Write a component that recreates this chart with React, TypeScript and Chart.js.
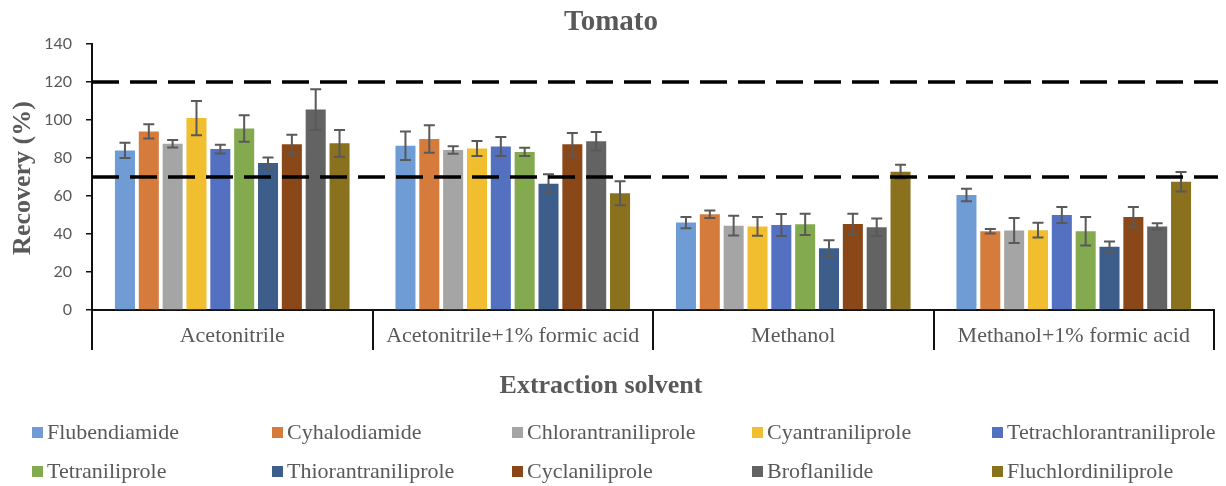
import React, { useEffect, useRef } from "react";
import { Chart, registerables } from "chart.js";

Chart.register(...registerables);

// Extraction solvents (x categories)
const solvents = [
  "Acetonitrile",
  "Acetonitrile+1% formic acid",
  "Methanol",
  "Methanol+1% formic acid",
];

// Compounds (series)
const compounds = [
  "Flubendiamide",
  "Cyhalodiamide",
  "Chlorantraniliprole",
  "Cyantraniliprole",
  "Tetrachlorantraniliprole",
  "Tetraniliprole",
  "Thiorantraniliprole",
  "Cyclaniliprole",
  "Broflanilide",
  "Fluchlordiniliprole",
];

const seriesColors = [
  "#6F9CD4",
  "#D57C3D",
  "#A5A5A5",
  "#F0BE2E",
  "#5470C0",
  "#84AA50",
  "#3D5D8B",
  "#8A4819",
  "#636363",
  "#8A711E",
];

// Mean recovery (%) per solvent
const flubendiamide = [84, 86.5, 46, 60.5];
const cyhalodiamide = [94, 90, 50.4, 41.4];
const chlorantraniliprole = [87.5, 84.2, 44.4, 41.8];
const cyantraniliprole = [101, 85, 44, 42];
const tetrachlorantraniliprole = [84.7, 86, 44.7, 50];
const tetraniliprole = [95.5, 83.2, 45.1, 41.4];
const thiorantraniliprole = [77.4, 66.5, 32.5, 33.3];
const cyclaniliprole = [87.2, 87.2, 45.3, 48.9];
const broflanilide = [105.5, 88.8, 43.5, 44];
const fluchlordiniliprole = [87.7, 61.4, 72.8, 67.5];

// Standard deviation (%) per solvent
const flubendiamideSd = [4, 7.5, 3, 3.3];
const cyhalodiamideSd = [3.7, 7.3, 2, 1.2];
const chlorantraniliproleSd = [2, 2, 5.2, 6.6];
const cyantraniliproleSd = [9, 3.9, 4.9, 3.9];
const tetrachlorantraniliproleSd = [2.3, 5, 5.8, 4.2];
const tetraniliproleSd = [7, 2.2, 5.6, 7.5];
const thiorantraniliproleSd = [2.8, 4.9, 4.2, 2.8];
const cyclaniliproleSd = [5, 6, 5.4, 5.3];
const broflanilideSd = [10.7, 4.9, 4.6, 1.6];
const fluchlordiniliproleSd = [7, 6.3, 3.7, 5.1];

const seriesValues = [
  flubendiamide,
  cyhalodiamide,
  chlorantraniliprole,
  cyantraniliprole,
  tetrachlorantraniliprole,
  tetraniliprole,
  thiorantraniliprole,
  cyclaniliprole,
  broflanilide,
  fluchlordiniliprole,
];

const seriesSd = [
  flubendiamideSd,
  cyhalodiamideSd,
  chlorantraniliproleSd,
  cyantraniliproleSd,
  tetrachlorantraniliproleSd,
  tetraniliproleSd,
  thiorantraniliproleSd,
  cyclaniliproleSd,
  broflanilideSd,
  fluchlordiniliproleSd,
];

// Acceptable recovery range limits
const limitLines = [120, 70];

const chartTitle = "Tomato";
const yTitle = "Recovery (%)";
const xTitle = "Extraction solvent";

const SERIF = '"Liberation Serif", "Times New Roman", serif';
const SANS = 'Lato, "Open Sans", sans-serif';

const overlayPlugin = {
  id: "overlay",
  afterDatasetsDraw(chart: any) {
    const ctx = chart.ctx;
    const y = chart.scales.y;
    const area = chart.chartArea;

    // error bars
    ctx.save();
    ctx.strokeStyle = "#595959";
    ctx.lineWidth = 2;
    chart.data.datasets.forEach((ds: any, di: number) => {
      const meta = chart.getDatasetMeta(di);
      meta.data.forEach((bar: any, i: number) => {
        const v = ds.data[i];
        const e = seriesSd[di][i];
        const top = y.getPixelForValue(v + e);
        const bot = y.getPixelForValue(v - e);
        const cap = 5.5;
        ctx.beginPath();
        ctx.moveTo(bar.x, top);
        ctx.lineTo(bar.x, bot);
        ctx.moveTo(bar.x - cap, top);
        ctx.lineTo(bar.x + cap, top);
        ctx.moveTo(bar.x - cap, bot);
        ctx.lineTo(bar.x + cap, bot);
        ctx.stroke();
      });
    });
    ctx.restore();

    // dashed limit lines
    ctx.save();
    ctx.strokeStyle = "#000000";
    ctx.lineWidth = 3.5;
    ctx.setLineDash([27, 11]);
    limitLines.forEach((val) => {
      const py = Math.round(y.getPixelForValue(val));
      ctx.beginPath();
      ctx.moveTo(area.left, py);
      ctx.lineTo(area.right + 4, py);
      ctx.stroke();
    });
    ctx.restore();
  },
  afterDraw(chart: any) {
    const ctx = chart.ctx;
    const area = chart.chartArea;
    ctx.save();
    ctx.fillStyle = "#595959";
    ctx.textAlign = "center";
    ctx.textBaseline = "middle";

    ctx.font = `bold 29px ${SERIF}`;
    ctx.fillText(chartTitle, chart.width / 2 - 2, 23);

    ctx.font = `bold 26px ${SERIF}`;
    ctx.fillText(xTitle, (area.left + area.right) / 2 - 52, 386);

    ctx.translate(23, (area.top + area.bottom) / 2 + 1);
    ctx.rotate(-Math.PI / 2);
    ctx.fillText(yTitle, 0, 0);
    ctx.restore();
  },
};

function ChartCanvas() {
  const ref = useRef<HTMLCanvasElement | null>(null);

  useEffect(() => {
    if (!ref.current) return;
    const chart = new Chart(ref.current, {
      type: "bar",
      data: {
        labels: solvents,
        datasets: compounds.map((name, i) => ({
          label: name,
          data: seriesValues[i],
          backgroundColor: seriesColors[i],
          borderWidth: 0,
          categoryPercentage: 0.85,
          barPercentage: 0.84,
        })),
      },
      options: {
        animation: false,
        responsive: false,
        maintainAspectRatio: false,
        layout: { padding: { top: 44, left: 0, right: 12, bottom: 136 } },
        plugins: {
          legend: { display: false },
          title: { display: false },
          tooltip: { enabled: false },
        },
        scales: {
          x: {
            offset: true,
            afterFit: (scale: any) => {
              scale.height = 40;
            },
            grid: {
              offset: true,
              drawOnChartArea: false,
              drawTicks: true,
              tickLength: 40,
              color: "#111111",
              lineWidth: 2,
            },
            border: { display: true, color: "#111111", width: 2 },
            ticks: {
              padding: -27,
              color: "#595959",
              font: { family: SERIF, size: 22 },
              maxRotation: 0,
              autoSkip: false,
            },
          },
          y: {
            min: 0,
            max: 140,
            afterFit: (scale: any) => {
              scale.width = 92;
            },
            grid: {
              drawOnChartArea: false,
              drawTicks: true,
              tickLength: 6,
              color: "#111111",
              lineWidth: 1.5,
            },
            border: { display: true, color: "#111111", width: 2 },
            ticks: {
              stepSize: 10,
              padding: 14,
              color: "#595959",
              font: { family: SANS, size: 16 },
              callback: (v: any) => (Number(v) % 20 === 0 ? String(v) : ""),
            },
          },
        },
      },
      plugins: [overlayPlugin],
    });
    return () => chart.destroy();
  }, []);

  return (
    <canvas
      ref={ref}
      width={1226}
      height={486}
      style={{ position: "absolute", left: 0, top: 0, width: 1226, height: 486 }}
    />
  );
}

// Legend layout: five equal columns, two rows
const legendLeft = 32;
const legendColumnWidth = 240;
const legendRows = [432, 471];

function Legend() {
  return (
    <>
      {compounds.map((name, i) => {
        const col = i % 5;
        const row = Math.floor(i / 5);
        return (
          <div
            key={name}
            style={{
              position: "absolute",
              left: legendLeft + col * legendColumnWidth,
              top: legendRows[row] - 13,
              height: 26,
              display: "flex",
              alignItems: "center",
              whiteSpace: "nowrap",
              fontFamily: SERIF,
              fontSize: 22,
              color: "#595959",
            }}
          >
            <span
              style={{
                display: "inline-block",
                width: 11,
                height: 11,
                background: seriesColors[i],
                marginRight: 4,
              }}
            />
            <span>{name}</span>
          </div>
        );
      })}
    </>
  );
}

export default function App() {
  return (
    <div
      style={{
        position: "absolute",
        left: 0,
        top: 0,
        width: 1226,
        height: 486,
        background: "#ffffff",
        overflow: "hidden",
      }}
    >
      <ChartCanvas />
      <Legend />
    </div>
  );
}
